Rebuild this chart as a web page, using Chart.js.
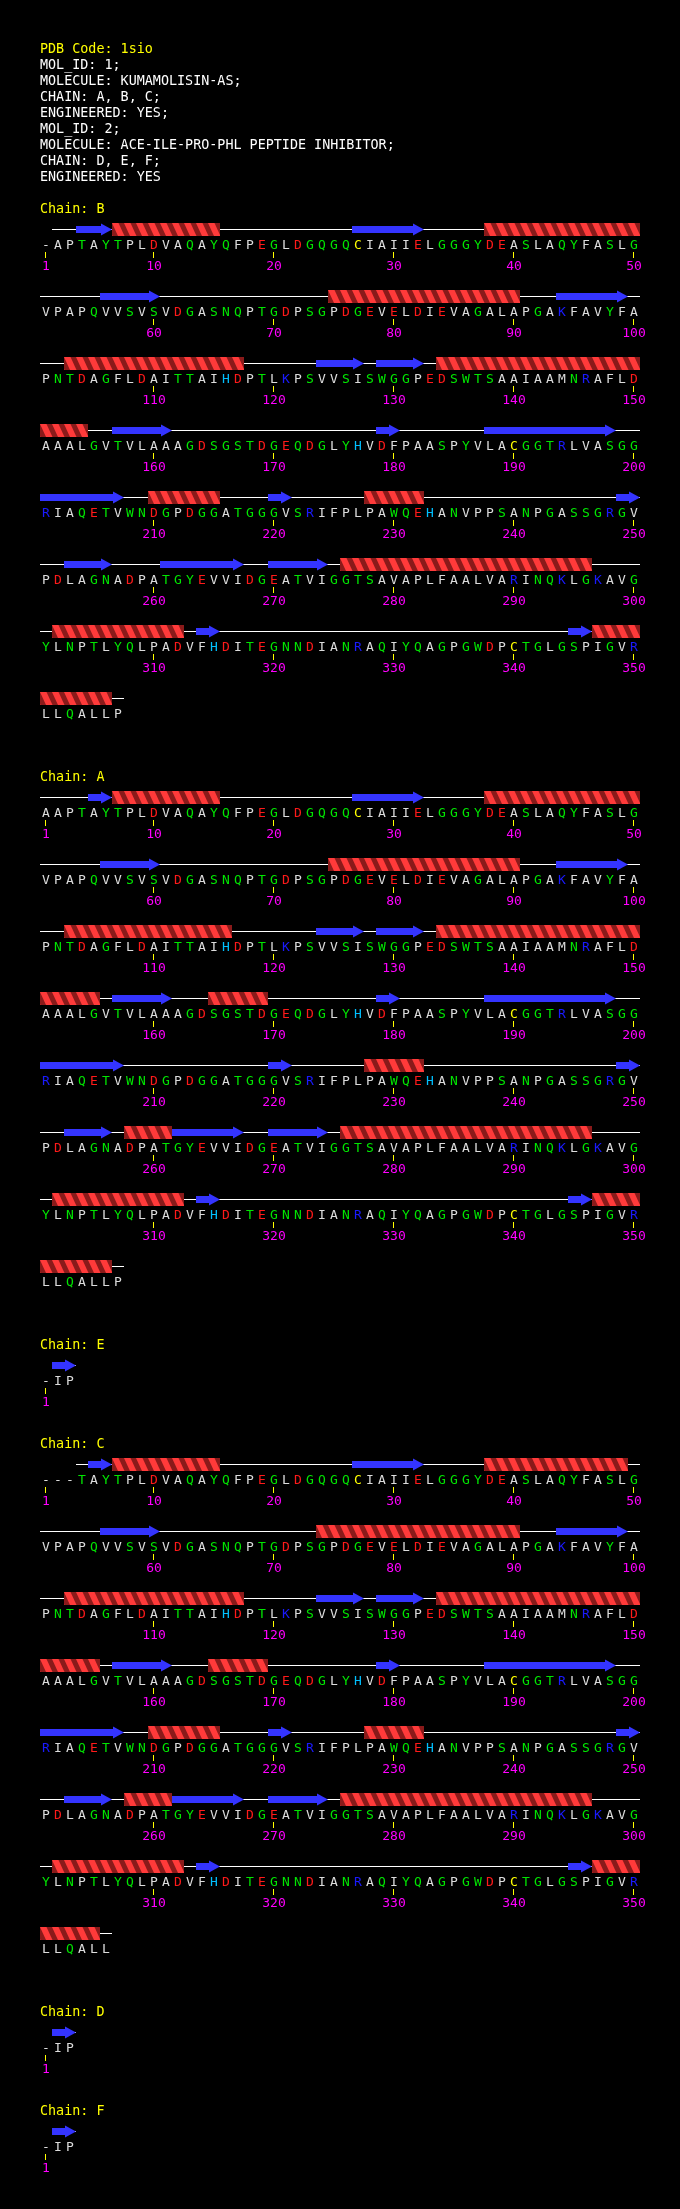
<!DOCTYPE html>
<html lang="en">
<head>
<meta charset="UTF-8" />
<title>PDBsum 1sio - sequence and secondary structure</title>
<script src="https://cdn.jsdelivr.net/npm/chart.js"></script>
<style>
  html, body { margin: 0; padding: 0; background: #000; }
  canvas { display: block; }
</style>
</head>
<body>
<canvas id="seqChart" width="680" height="2209"></canvas>
<script>
// ---- header text ----
const headerLines = [
  'PDB Code: 1sio',
  'MOL_ID: 1;',
  'MOLECULE: KUMAMOLISIN-AS;',
  'CHAIN: A, B, C;',
  'ENGINEERED: YES;',
  'MOL_ID: 2;',
  'MOLECULE: ACE-ILE-PRO-PHL PEPTIDE INHIBITOR;',
  'CHAIN: D, E, F;',
  'ENGINEERED: YES'
];

// ---- sequences ('-' = residue not observed) ----
const kumamolisin =
  'AAPTAYTPLDVAQAYQFPEGLDGQGQCIAIIELGGGYDEASLAQYFASLG' +
  'VPAPQVVSVSVDGASNQPTGDPSGPDGEVELDIEVAGALAPGAKFAVYFA' +
  'PNTDAGFLDAITTAIHDPTLKPSVVSISWGGPEDSWTSAAIAAMNRAFLD' +
  'AAALGVTVLAAAGDSGSTDGEQDGLYHVDFPAASPYVLACGGTRLVASGG' +
  'RIAQETVWNDGPDGGATGGGVSRIFPLPAWQEHANVPPSANPGASSGRGV' +
  'PDLAGNADPATGYEVVIDGEATVIGGTSAVAPLFAALVARINQKLGKAVG' +
  'YLNPTLYQLPADVFHDITEGNNDIANRAQIYQAGPGWDPCTGLGSPIGVR' +
  'LLQALLP';
const seqA = kumamolisin;
const seqB = '-' + kumamolisin.slice(1);
const seqC = '---' + kumamolisin.slice(3, 356);
const seqPeptide = '-IP';

// ---- secondary structure, [first, last] residue ----
const helixB = [[7,15],[38,50],[75,90],[103,117],[134,154],[210,215],[228,232],[276,296],[302,312],[347,356]];
const strandB = [[4,6],[27,32],[56,60],[94,99],[124,127],[129,132],[157,161],[179,180],[188,198],[201,207],
  [220,221],[249,250],[253,256],[261,267],[270,274],[314,315],[345,346]];

const helixA = [[7,15],[38,50],[75,90],[103,116],[134,155],[165,169],[228,232],[258,261],[276,296],[302,312],[347,356]];
const strandA = [[5,6],[27,32],[56,60],[94,99],[124,127],[129,132],[157,161],[179,180],[188,198],[201,207],
  [220,221],[249,250],[253,256],[262,267],[270,274],[314,315],[345,346]];

const helixC = [[7,15],[38,49],[74,90],[103,117],[134,155],[165,169],[210,215],[228,232],[258,261],[276,296],[302,312],[347,355]];
const strandC = [[5,6],[27,32],[56,60],[94,99],[124,127],[129,132],[157,161],[179,180],[188,198],[201,207],
  [220,221],[249,250],[253,256],[262,267],[270,274],[314,315],[345,346]];

const helixPeptide = [];
const strandPeptide = [[2,3]];

const chains = [
  { name: 'B', seq: seqB, helices: helixB, strands: strandB },
  { name: 'A', seq: seqA, helices: helixA, strands: strandA },
  { name: 'E', seq: seqPeptide, helices: helixPeptide, strands: strandPeptide },
  { name: 'C', seq: seqC, helices: helixC, strands: strandC },
  { name: 'D', seq: seqPeptide, helices: helixPeptide, strands: strandPeptide },
  { name: 'F', seq: seqPeptide, helices: helixPeptide, strands: strandPeptide }
];

// ---- layout ----
const PER_ROW = 50;
const COL_W = 12;        // px per residue
const FIRST_COL_X = 46;  // px of column 1
const HEADER_Y = 48;
const LINE_STEP = 16;
const LABEL_GAP = 36;
const ROW_STEP = 67;
const BLOCK_GAP = 63;
const W = 680, H = 2209;

const resColours = {
  D: '#ff1a1a', E: '#ff1a1a',
  K: '#1a1aff', R: '#1a1aff',
  H: '#00c0ff',
  S: '#00e600', T: '#00e600', N: '#00e600', Q: '#00e600', G: '#00e600', Y: '#00e600', W: '#00e600',
  C: '#ffff00'
};
const defaultColour = '#dcdcdc';

function buildBlocks() {
  let y = HEADER_Y + (headerLines.length - 1) * LINE_STEP + 32;
  return chains.map(ch => {
    const labelY = y;
    const nRows = Math.ceil(ch.seq.length / PER_ROW);
    const rows = [];
    for (let r = 0; r < nRows; r++) rows.push(labelY + LABEL_GAP + r * ROW_STEP);
    y = rows[rows.length - 1] + BLOCK_GAP;
    return Object.assign({}, ch, { labelY, rows });
  });
}
const blocks = buildBlocks();

const FONT = "13px 'DejaVu Sans Mono', 'Liberation Mono', monospace";
const HEAD_FONT = "13.4px 'DejaVu Sans Mono', 'Liberation Mono', monospace";

function drawHelix(ctx, x1, x2, yc) {
  const top = Math.round(yc) - 7, h = 13;
  ctx.save();
  ctx.beginPath();
  ctx.rect(x1, top, x2 - x1, h);
  ctx.clip();
  ctx.fillStyle = '#8a1a1a';
  ctx.fillRect(x1, top, x2 - x1, h);
  ctx.fillStyle = '#ff3a3a';
  for (let x = x1 - COL_W; x < x2; x += COL_W) {
    ctx.beginPath();
    ctx.moveTo(x, top);
    ctx.lineTo(x + 6.5, top);
    ctx.lineTo(x + 12.5, top + h);
    ctx.lineTo(x + 6, top + h);
    ctx.closePath();
    ctx.fill();
  }
  ctx.restore();
}

function drawStrand(ctx, x1, x2, yc, withHead) {
  const y = Math.round(yc);
  const hl = withHead ? Math.min(11, (x2 - x1) * 0.55) : 0;
  ctx.fillStyle = '#3434ff';
  ctx.fillRect(x1, y - 4, x2 - x1 - hl, 7);
  if (withHead) {
    ctx.beginPath();
    ctx.moveTo(x2 - hl, y - 6.5);
    ctx.lineTo(x2, y - 0.5);
    ctx.lineTo(x2 - hl, y + 5.5);
    ctx.closePath();
    ctx.fill();
  }
}

const seqPlugin = {
  id: 'seqPlot',
  beforeDraw(chart) {
    const ctx = chart.ctx;
    ctx.save();
    ctx.fillStyle = '#000';
    ctx.fillRect(0, 0, chart.width, chart.height);
    ctx.restore();
  },
  afterDatasetsDraw(chart) {
    const ctx = chart.ctx;
    const xs = chart.scales.x, ys = chart.scales.y;
    const px = v => xs.getPixelForValue(v);
    const py = v => ys.getPixelForValue(v);
    const leftX = px(0.5);

    ctx.save();
    ctx.textBaseline = 'alphabetic';

    // header
    ctx.font = HEAD_FONT;
    ctx.textAlign = 'left';
    headerLines.forEach((t, i) => {
      ctx.fillStyle = i === 0 ? '#ffff00' : '#ffffff';
      ctx.fillText(t, leftX, py(HEADER_Y + i * LINE_STEP) + 5);
    });

    blocks.forEach(b => {
      ctx.font = HEAD_FONT;
      ctx.textAlign = 'left';
      ctx.fillStyle = '#ffff00';
      ctx.fillText('Chain: ' + b.name, leftX, py(b.labelY) + 5);
      ctx.font = FONT;

      b.rows.forEach((rowY, r) => {
        const rowStart = r * PER_ROW + 1;
        const rowEnd = Math.min((r + 1) * PER_ROW, b.seq.length);
        const col = n => n - r * PER_ROW;
        const sseY = py(rowY - 14);

        // backbone line over observed residues
        let first = -1, last = -1;
        for (let n = rowStart; n <= rowEnd; n++) {
          if (b.seq[n - 1] !== '-') { if (first < 0) first = n; last = n; }
        }
        if (first > 0) {
          ctx.fillStyle = '#ffffff';
          const x1 = px(col(first) - 0.5), x2 = px(col(last) + 0.5);
          ctx.fillRect(x1, Math.round(sseY) - 1, x2 - x1, 1);
        }

        b.helices.forEach(([s, e]) => {
          const s1 = Math.max(s, rowStart), e1 = Math.min(e, rowEnd);
          if (s1 > e1) return;
          drawHelix(ctx, px(col(s1) - 0.5), px(col(e1) + 0.5), sseY);
        });
        b.strands.forEach(([s, e]) => {
          const s1 = Math.max(s, rowStart), e1 = Math.min(e, rowEnd);
          if (s1 > e1) return;
          drawStrand(ctx, px(col(s1) - 0.5), px(col(e1) + 0.5), sseY, e <= rowEnd);
        });

        // residues, ticks and numbers
        ctx.textAlign = 'center';
        for (let n = rowStart; n <= rowEnd; n++) {
          const ch = b.seq[n - 1];
          const x = px(col(n));
          ctx.fillStyle = resColours[ch] || defaultColour;
          ctx.fillText(ch, x, py(rowY) + 5);
          if (n === 1 || n % 10 === 0) {
            ctx.fillStyle = '#ffff00';
            ctx.fillRect(Math.round(x) - 1, py(rowY + 8), 1, 6);
            ctx.fillStyle = '#ff00ff';
            ctx.fillText(String(n), x, py(rowY + 21) + 5);
          }
        }
      });
    });
    ctx.restore();
  }
};

const xMin = 1 - FIRST_COL_X / COL_W;

new Chart(document.getElementById('seqChart'), {
  type: 'scatter',
  data: { datasets: [] },
  options: {
    responsive: false,
    devicePixelRatio: 1,
    animation: false,
    events: [],
    layout: { padding: 0 },
    plugins: { legend: { display: false }, title: { display: false }, tooltip: { enabled: false } },
    scales: {
      x: { type: 'linear', min: xMin, max: xMin + W / COL_W, display: false },
      y: { type: 'linear', min: 0, max: H, reverse: true, display: false }
    }
  },
  plugins: [seqPlugin]
});
</script>
</body>
</html>
